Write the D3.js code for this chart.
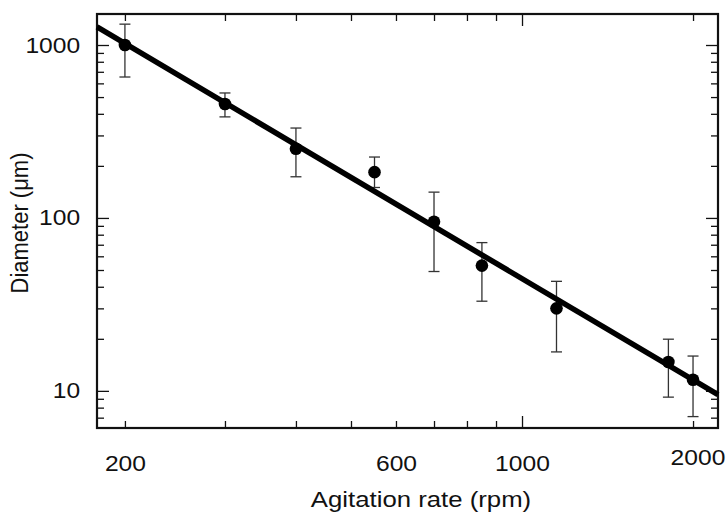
<!DOCTYPE html>
<html>
<head>
<meta charset="utf-8">
<script src="https://cdn.jsdelivr.net/npm/d3@7"></script>
<style>
  body { margin: 0; background: #fff; }
  svg text { font-family: "Liberation Sans", Arial, Helvetica, sans-serif; fill: #111; }
</style>
</head>
<body>
<svg width="727" height="512"></svg>
<script>
// measured points: agitation rate (rpm) vs droplet diameter (um)
var rpm = [200, 300, 400, 550, 700, 850, 1150, 1810, 2000];
var diameter = [1000, 456, 251, 184, 95, 53, 30, 14.7, 11.6];
var errHigh = [1320, 528, 331, 225, 141, 72, 43, 19.9, 15.9];
var errLow = [653, 384, 173, 150, 49, 33, 16.8, 9.2, 7.1];

// fitted power law, drawn across the whole frame
var fitRpm = [178.6, 2213];
var fitDiameter = [1271, 9.5];

var xMinor = [200, 300, 400, 500, 600, 700, 800, 900, 2000];
var xMajor = [1000];
var xLabels = [200, 600, 1000, 2000];
var yMinor = [7, 8, 9, 20, 30, 40, 50, 60, 70, 80, 90, 200, 300, 400, 500, 600, 700, 800, 900];
var yMajor = [10, 100, 1000];

var svg = d3.select("svg")
var margin = {top: 14, right: 9, bottom: 84, left: 97};
var W = 727, H = 512;
var stretch = "scale(1.12,1)"; // the original text is a bit wide

var x = d3.scaleLog().domain([178.6, 2213]).range([margin.left, W - margin.right]);
var y = d3.scaleLog().domain([6.1, 1511]).range([H - margin.bottom, margin.top]);

var pts = rpm.map(function(r, i) {
  return {r: r, d: diameter[i], hi: errHigh[i], lo: errLow[i]};
});

// ticks, all pointing inward, on all four sides
function ticks(axis, vals, len, tx) {
  svg.append("g")
      .attr("transform", tx)
      .call(axis.tickValues(vals).tickSize(-len).tickSizeOuter(0).tickFormat(""))
    .call(function(g) {
      g.select(".domain").remove();
      g.selectAll("line").attr("stroke", "#111").attr("stroke-width", 1.3);
    });
}
var atBottom = "translate(0," + (H - margin.bottom) + ")";
var atTop = "translate(0," + margin.top + ")";
var atLeft = "translate(" + margin.left + ",0)";
var atRight = "translate(" + (W - margin.right) + ",0)";
ticks(d3.axisBottom(x), xMinor, 7, atBottom);
ticks(d3.axisBottom(x), xMajor, 12, atBottom);
ticks(d3.axisTop(x), xMinor, 7, atTop);
ticks(d3.axisTop(x), xMajor, 12, atTop);
ticks(d3.axisLeft(y), yMinor, 7, atLeft);
ticks(d3.axisLeft(y), yMajor, 12, atLeft);
ticks(d3.axisRight(y), yMinor, 7, atRight);
ticks(d3.axisRight(y), yMajor, 12, atRight);

// tick labels
svg.append("g")
    .attr("transform", atBottom)
    .call(d3.axisBottom(x).tickValues(xLabels).tickSize(0).tickPadding(27).tickFormat(d3.format("d")))
  .call(function(g) {
    g.select(".domain").remove();
    g.selectAll("text").attr("font-size", 22).attr("fill", "#111").attr("transform", stretch);
    // the 2000 label sits a little right of and above its tick
    g.selectAll(".tick").filter(function(d) { return d === 2000; })
      .select("text").attr("x", 4).attr("y", 21);
  });

svg.append("g")
    .attr("transform", atLeft)
    .call(d3.axisLeft(y).tickValues(yMajor).tickSize(0).tickPadding(15).tickFormat(d3.format("d")))
  .call(function(g) {
    g.select(".domain").remove();
    g.selectAll("text").attr("font-size", 22).attr("fill", "#111").attr("transform", stretch);
  });

// frame
svg.append("rect")
    .attr("x", margin.left)
    .attr("y", margin.top)
    .attr("width", W - margin.left - margin.right)
    .attr("height", H - margin.top - margin.bottom)
    .attr("fill", "none")
    .attr("stroke", "#111")
    .attr("stroke-width", 2.2);

// error bars
var eb = svg.append("g").attr("stroke", "#333").attr("stroke-width", 1.3);
eb.selectAll(".bar").data(pts).enter().append("line")
    .attr("x1", function(d) { return x(d.r); })
    .attr("x2", function(d) { return x(d.r); })
    .attr("y1", function(d) { return y(d.hi); })
    .attr("y2", function(d) { return y(d.lo); });
["hi", "lo"].forEach(function(k) {
  eb.selectAll(".cap-" + k).data(pts).enter().append("line")
      .attr("x1", function(d) { return x(d.r) - 5.5; })
      .attr("x2", function(d) { return x(d.r) + 5.5; })
      .attr("y1", function(d) { return y(d[k]); })
      .attr("y2", function(d) { return y(d[k]); });
});

// fit line
svg.append("path")
    .datum(fitRpm.map(function(r, i) { return [r, fitDiameter[i]]; }))
    .attr("fill", "none")
    .attr("stroke", "#000")
    .attr("stroke-width", 5.5)
    .attr("d", d3.line().x(function(d) { return x(d[0]); }).y(function(d) { return y(d[1]); }));

svg.selectAll("circle").data(pts).enter().append("circle")
    .attr("cx", function(d) { return x(d.r); })
    .attr("cy", function(d) { return y(d.d); })
    .attr("r", 6.3)
    .attr("fill", "#000");

// axis titles
svg.append("text")
    .attr("transform", "translate(421,507) " + stretch)
    .attr("text-anchor", "middle")
    .attr("font-size", 23)
    .text("Agitation rate (rpm)");

svg.append("text")
    .attr("transform", "translate(28,223) " + stretch + " rotate(-90)")
    .attr("text-anchor", "middle")
    .attr("font-size", 22)
    .text("Diameter (μm)");
</script>
</body>
</html>
